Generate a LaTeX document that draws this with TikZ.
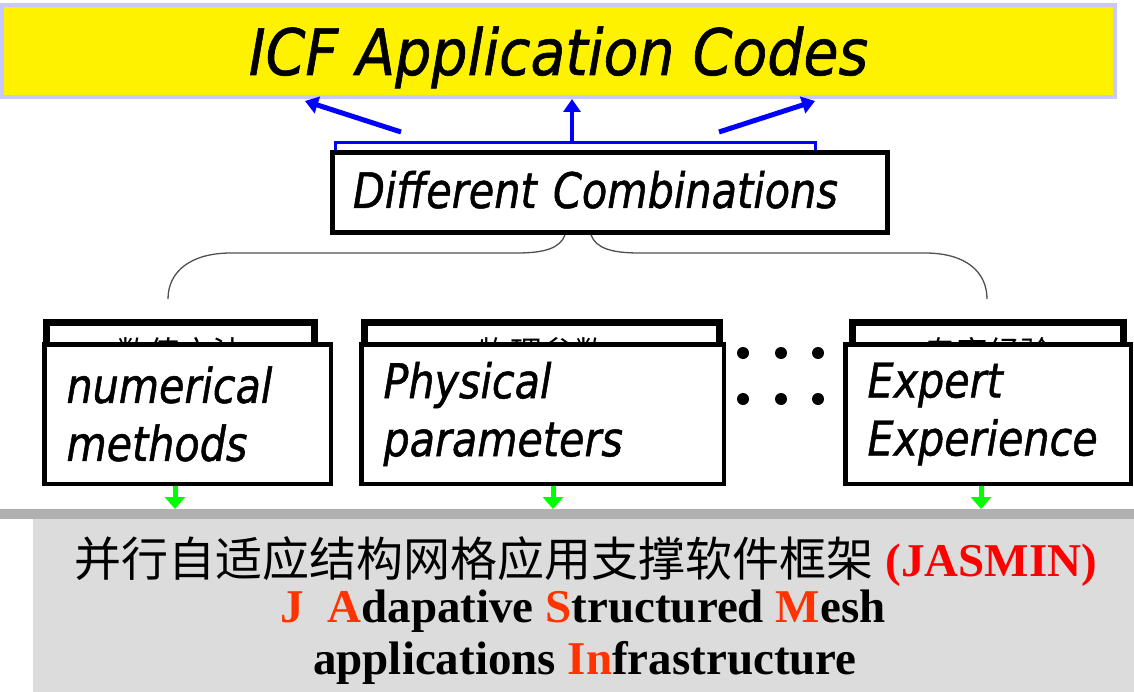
\documentclass[tikz,border=0pt]{standalone}
\usepackage{fontspec}
\setmainfont{DejaVu Sans}
\newfontfamily\titlef[FakeStretch=0.89,FakeBold=1]{DejaVu Sans}
\newfontfamily\dcf[FakeStretch=0.845,FakeBold=1]{DejaVu Sans}
\newfontfamily\boxf[FakeStretch=0.86,FakeBold=1]{DejaVu Sans}
\newfontfamily\tnr{Liberation Serif}
\newfontfamily\cjk{Noto Sans CJK SC}
\usetikzlibrary{arrows.meta,calc}
\definecolor{lav}{RGB}{200,200,255}
\definecolor{ablue}{RGB}{0,0,255}
\definecolor{agreen}{RGB}{0,255,0}
\definecolor{bandc}{RGB}{176,176,176}
\definecolor{panelc}{RGB}{220,220,220}
\definecolor{jred}{RGB}{255,0,0}
\definecolor{ored}{RGB}{255,51,0}
\definecolor{bracec}{RGB}{80,80,80}
\begin{document}
\begin{tikzpicture}[x=1pt,y=-1pt,
  titlebox/.style={draw=lav, line width=4pt, fill=yellow, inner sep=0pt,
    minimum width=1113pt, minimum height=92pt, text height=48pt, text depth=0pt,
    font={\titlef\itshape\fontsize{64}{70}\selectfont}},
  dcbox/.style={draw=black, line width=5pt, fill=white, inner xsep=18pt, inner ysep=0pt,
    minimum width=555pt, minimum height=80pt, text width=514pt, align=left,
    text height=31pt, text depth=0pt,
    font={\dcf\itshape\fontsize{49}{55}\selectfont}},
  backbox/.style={draw=black, line width=7pt, fill=white, inner sep=0pt, anchor=north},
  frontbox/.style={draw=black, line width=4.5pt, fill=white, inner xsep=20pt, inner ysep=0pt,
    minimum height=139.5pt, align=left,
    font={\boxf\itshape\fontsize{48}{58}\selectfont}},
  backtext/.style={anchor=base, inner sep=0pt, font={\cjk\fontsize{32}{36}\selectfont}},
  paneltext/.style={anchor=base, inner sep=0pt, font={\tnr\bfseries\fontsize{47}{52}\selectfont}},
  bluearrow/.style={draw=ablue, line width=5pt, -{Triangle[length=13pt,width=17pt]}},
  greenarrow/.style={draw=agreen, line width=5pt, -{Triangle[length=12pt,width=20pt]}},
  bracestyle/.style={draw=bracec, line width=1.3pt},
  dotstyle/.style={fill=black}
]
\useasboundingbox (0,0) rectangle (1134,692);

% top box
\node[titlebox] (top) at (558.5,51) {ICF Application Codes};

% blue bracket and arrows
\coordinate (bl) at (335,151);
\coordinate (br) at (815,151);
\coordinate (bm) at (572,143);
\draw[ablue, line width=3pt] (bl) -- (335,143) -- (815,143) -- (br);
\coordinate (al0) at (401,132);
\coordinate (al1) at (305,101);
\coordinate (ar0) at (719,132);
\coordinate (ar1) at (815,101);
\draw[bluearrow] (al0) -- (al1);
\draw[bluearrow] (ar0) -- (ar1);
\draw[bluearrow, line width=4pt] (bm) -- (bm |- top.south);

% different combinations
\node[dcbox] (dc) at (610,192.5) {Different Combinations};

% brace
\draw[bracestyle] ([xshift=-45pt]dc.south) .. controls (560,248) and (545,253) .. (517,253)
  -- (231,253) .. controls (190,253) and (168,272) .. (168,299);
\draw[bracestyle] ([xshift=-19pt]dc.south) .. controls (596,248) and (611,253) .. (639,253)
  -- (925,253) .. controls (966,253) and (987,272) .. (987,299);

% back boxes
\node[backbox, minimum width=268pt, minimum height=90pt] (b1) at (180.5,318.5) {};
\node[backbox, minimum width=355pt, minimum height=90pt] (b2) at (542,318.5) {};
\node[backbox, minimum width=271pt, minimum height=90pt] (b3) at (988,318.5) {};
\node[backtext] (t1) at (180,364) {数值方法};
\node[backtext] (t2) at (542,364) {物理参数};
\node[backtext] (t3) at (988,364) {专家经验};

% front boxes
\node[frontbox, minimum width=286.5pt, text width=242pt] (f1) at (187.5,414) {numerical\\methods};
\node[frontbox, minimum width=362.5pt, text width=318pt] (f2) at (542.5,414) {Physical\\parameters};
\node[frontbox, minimum width=285.5pt, text width=241pt] (f3) at (988,414) {Expert\\Experience};

% dots
\foreach \dx/\dy [count=\i] in {743/353,781/353,818/353,743/399,781/399,818/399}
  \fill[dotstyle] (\dx,\dy) circle (6pt);

% band and panel
\fill[bandc] (0,509) rectangle (1134,519);
\node[fill=panelc, inner sep=0pt, minimum width=1101pt, minimum height=173pt, anchor=north west] (panel) at (33,519) {};

% green arrows
\coordinate (g1) at (175,509);
\coordinate (g2) at (553,509);
\coordinate (g3) at (981,509);
\draw[greenarrow] (f1.south -| g1) -- (g1);
\draw[greenarrow] (f2.south -| g2) -- (g2);
\draw[greenarrow] (f3.south -| g3) -- (g3);

% panel text
\node[paneltext] (l1) at (586,576)
  {{\cjk\mdseries 并行自适应结构网格应用支撑软件框架} {\color{jred}(JASMIN)}};
\node[paneltext] (l2) at (583,622)
  {\textcolor{ored}{J}\ \ \textcolor{ored}{A}dapative \textcolor{ored}{S}tructured \textcolor{ored}{M}esh};
\node[paneltext] (l3) at (585,674)
  {applications \textcolor{ored}{In}frastructure};
\end{tikzpicture}
\end{document}
